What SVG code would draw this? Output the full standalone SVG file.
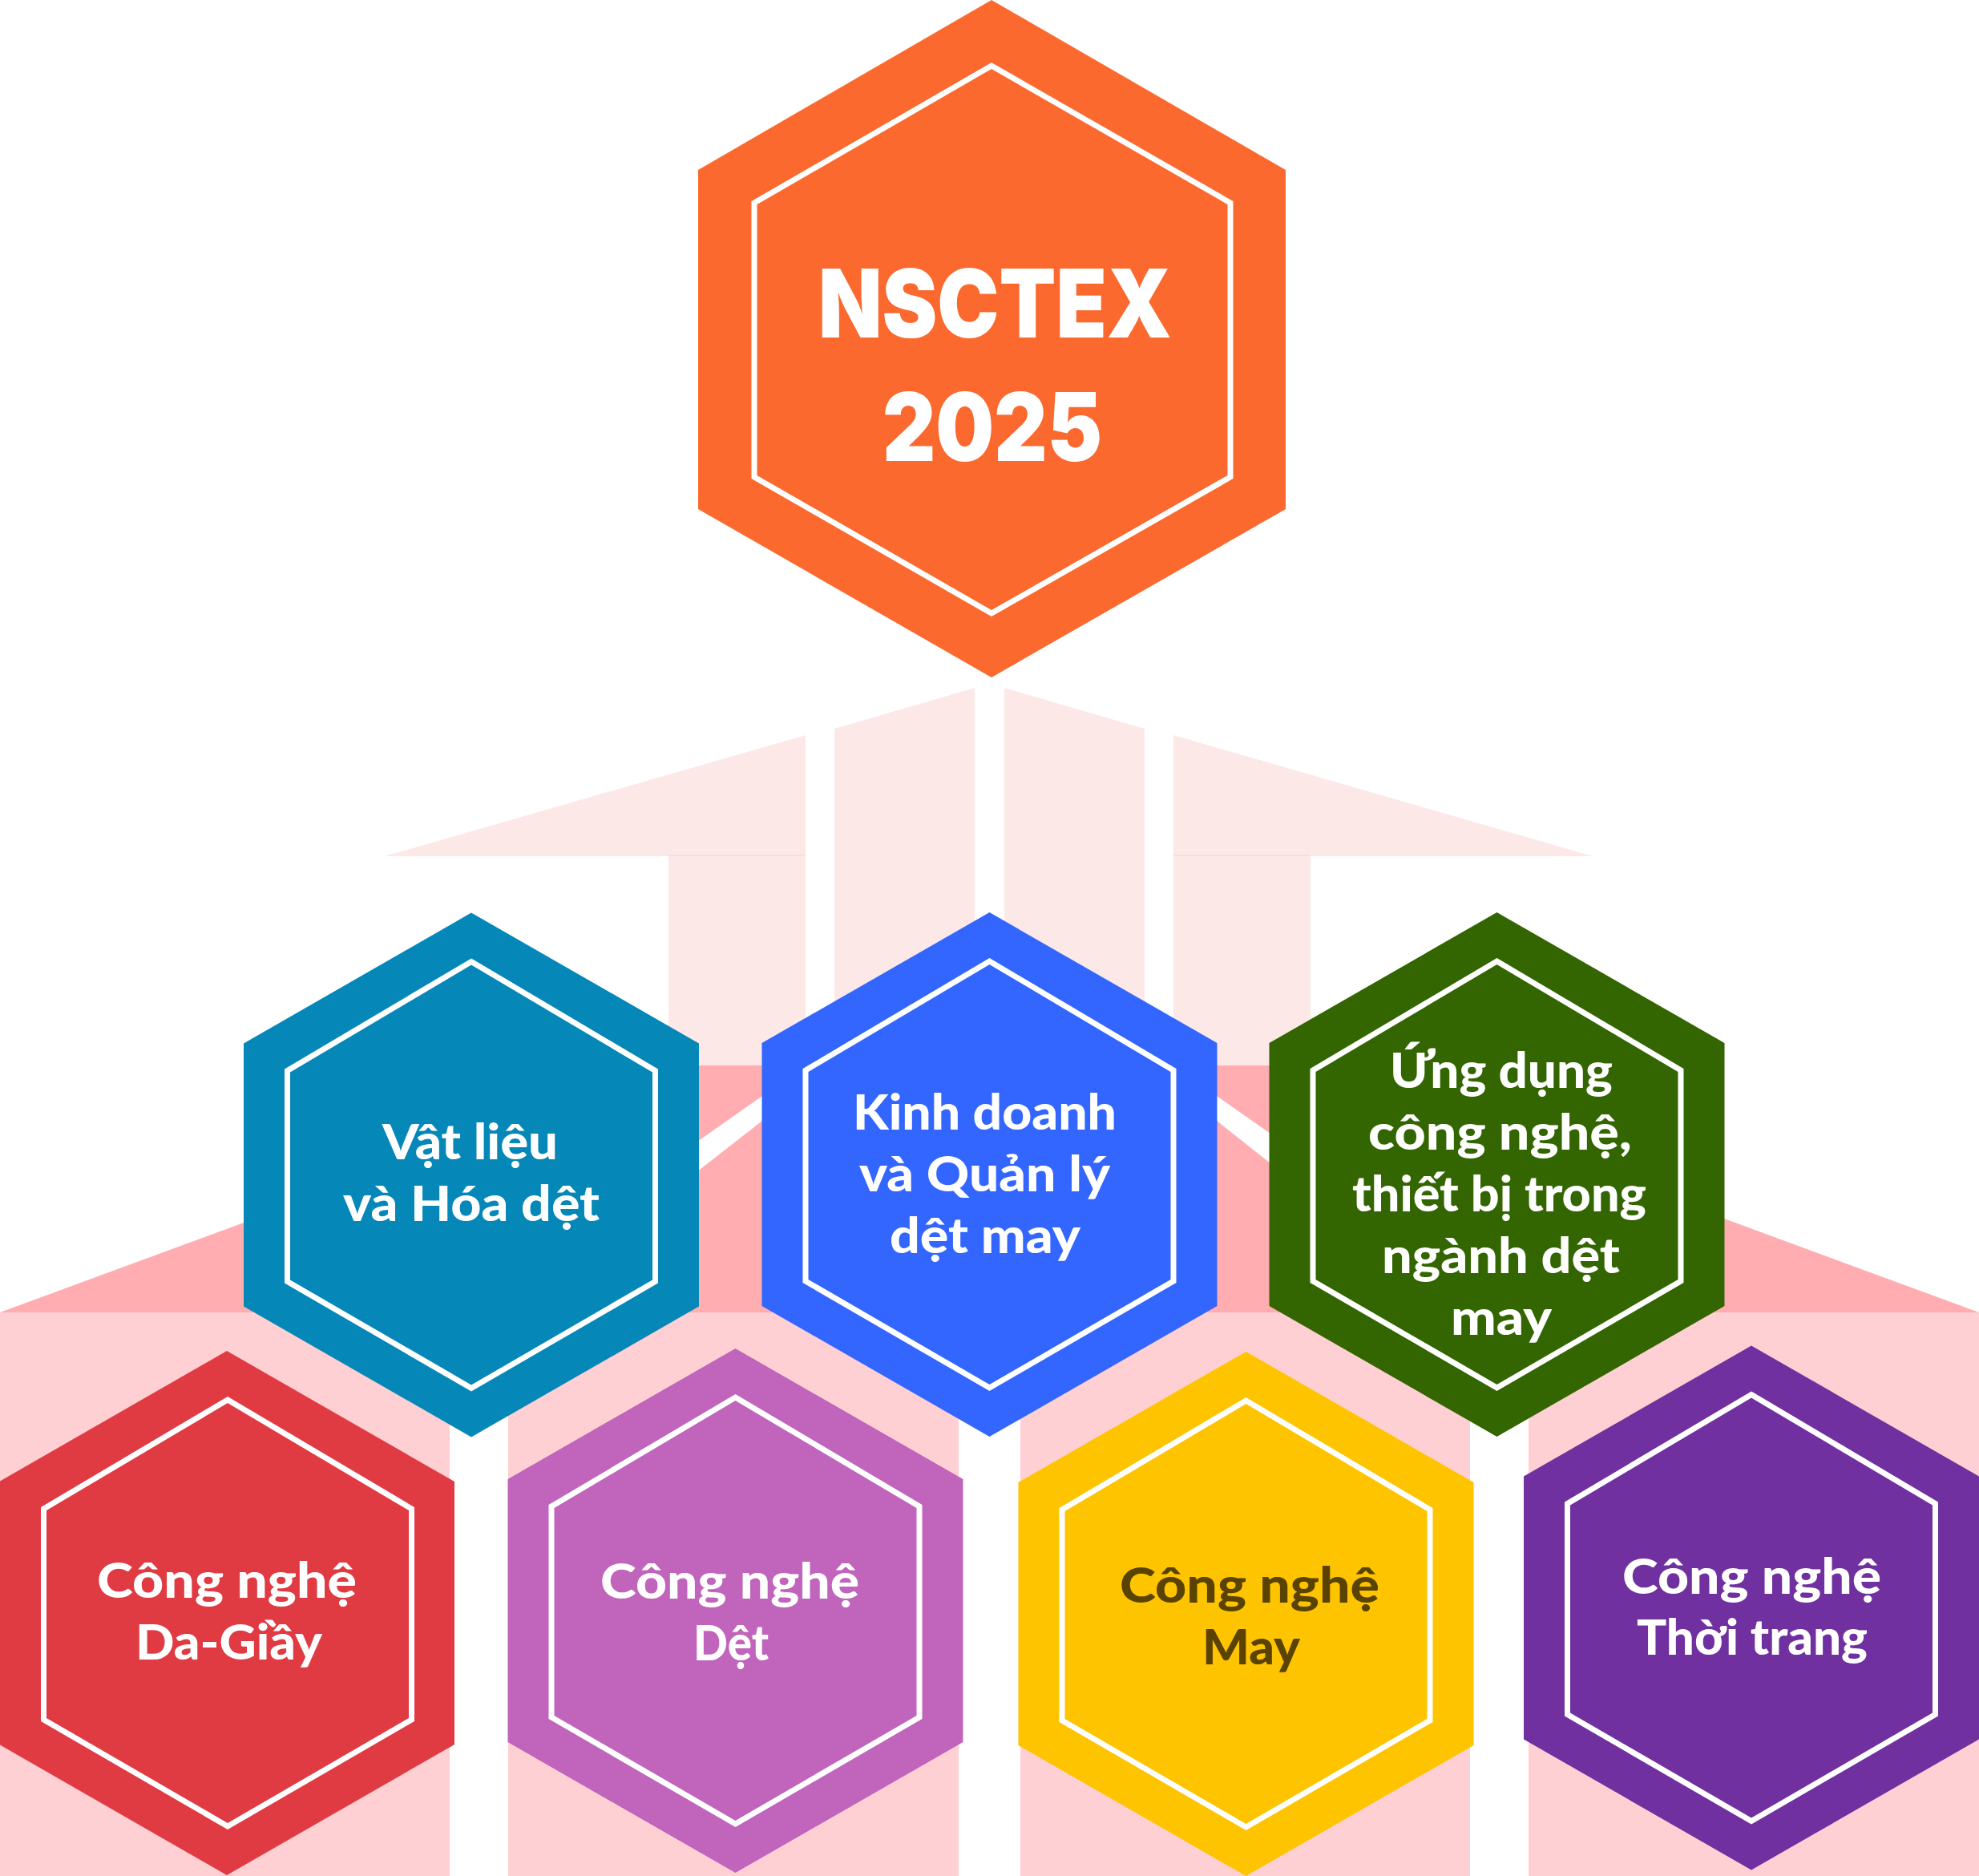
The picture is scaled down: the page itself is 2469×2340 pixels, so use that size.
<svg xmlns="http://www.w3.org/2000/svg" xmlns:xlink="http://www.w3.org/1999/xlink" width="2469" height="2340" viewBox="0 0 2469 2340">
<style>
.pale{fill:#fde8e8}.seam{fill:#fbdcdc}.pink{fill:#ffadb0}.light{fill:#ffd0d3}.gap{fill:#fff}
.inner{fill:none;stroke:#fff;stroke-width:7;stroke-miterlimit:10}
text{font-family:"Lato","Noto Sans",sans-serif;font-weight:900;font-size:60px;fill:#fff}
.title{font-family:"Inter","Lato",sans-serif;font-weight:900;font-size:118px}
.dark{fill:#5a4300}
</style>
<defs>
<polygon id="hexO" points="0,0 284,163 284,491 0,654 -284,491 -284,163"/>
<polygon id="hexI" class="inner" points="0,61 229.5,197 229.5,460 0,593 -229.5,460 -229.5,197"/>
</defs>
<rect width="2469" height="2340" fill="#fff"/>
<g id="connectors">
<polygon class="pale" points="480,1068 1005,917 1005,1329 834,1329 834,1068"/>
<polygon class="pale" points="1041,909 1216,858 1216,1329 1041,1329"/>
<polygon class="pale" points="1253,858 1428,909 1428,1329 1253,1329"/>
<polygon class="pale" points="1464,917 1987,1068 1635,1068 1635,1329 1464,1329"/>
<rect class="seam" x="834" y="1066" width="171" height="2"/>
<rect class="seam" x="1464" y="1066" width="171" height="2"/>
<polygon class="pink" points="0,1637 837,1329 1632,1329 2469,1637"/>
<polygon class="gap" points="860,1431 951,1367 951,1398 860,1469"/>
<polygon class="gap" points="1518,1367 1595,1421 1595,1459 1518,1398"/>
<rect class="light" x="0" y="1637" width="2469" height="63"/>
<rect class="light" x="0" y="1700" width="561" height="640"/>
<rect class="light" x="634" y="1700" width="562" height="640"/>
<rect class="light" x="1273" y="1700" width="561" height="640"/>
<rect class="light" x="1907" y="1700" width="562" height="640"/>
</g>
<g id="node-nsctex">
<polygon fill="#fb692f" points="1237,0 1604,212 1604,635 1237,845 871,635 871,212"/>
<polygon class="inner" points="1237,82 1535,253 1535,595 1237,765 941,595 941,253"/>
<text class="title" x="1021" y="421" textLength="441" lengthAdjust="spacingAndGlyphs">NSCTEX</text>
<text class="title" x="1101" y="575" textLength="274" lengthAdjust="spacingAndGlyphs">2025</text>
</g>
<g id="node-vat-lieu">
<use xlink:href="#hexO" fill="#0587b8" transform="translate(588,1138.5)"/><use xlink:href="#hexI" transform="translate(588,1138.5)"/>
<text x="477" y="1446" textLength="219" lengthAdjust="spacingAndGlyphs">Vật liệu</text>
<text x="428" y="1523" textLength="320" lengthAdjust="spacingAndGlyphs">và Hóa dệt</text>
</g>
<g id="node-kinh-doanh">
<use xlink:href="#hexO" fill="#3366ff" transform="translate(1234.5,1138)"/><use xlink:href="#hexI" transform="translate(1234.5,1138)"/>
<text x="1064" y="1409" textLength="329" lengthAdjust="spacingAndGlyphs">Kinh doanh</text>
<text x="1072" y="1486" textLength="313" lengthAdjust="spacingAndGlyphs">và Quản lý</text>
<text x="1110" y="1563" textLength="238" lengthAdjust="spacingAndGlyphs">dệt may</text>
</g>
<g id="node-ung-dung">
<use xlink:href="#hexO" fill="#336600" transform="translate(1867.5,1138)"/><use xlink:href="#hexI" transform="translate(1867.5,1138)"/>
<text x="1734" y="1357" textLength="278" lengthAdjust="spacingAndGlyphs">Ứng dụng</text>
<text x="1707" y="1433.5" textLength="329" lengthAdjust="spacingAndGlyphs">công nghệ,</text>
<text x="1687" y="1510.5" textLength="367" lengthAdjust="spacingAndGlyphs">thiết bị trong</text>
<text x="1724" y="1587.5" textLength="297" lengthAdjust="spacingAndGlyphs">ngành dệt</text>
<text x="1810" y="1664.5" textLength="126" lengthAdjust="spacingAndGlyphs">may</text>
</g>
<g id="node-da-giay">
<use xlink:href="#hexO" fill="#e03b43" transform="translate(283,1685)"/><use xlink:href="#hexI" transform="translate(284,1685)"/>
<text x="121" y="1993" textLength="324" lengthAdjust="spacingAndGlyphs">Công nghệ</text>
<text x="169" y="2070" textLength="233" lengthAdjust="spacingAndGlyphs">Da-Giầy</text>
</g>
<g id="node-det">
<use xlink:href="#hexO" fill="#c064bc" transform="translate(917.5,1682)"/><use xlink:href="#hexI" transform="translate(917.5,1682)"/>
<text x="749" y="1993.5" textLength="323" lengthAdjust="spacingAndGlyphs">Công nghệ</text>
<text x="865" y="2070.5" textLength="94" lengthAdjust="spacingAndGlyphs">Dệt</text>
</g>
<g id="node-may">
<use xlink:href="#hexO" fill="#ffc400" transform="translate(1554.5,1686)"/><use xlink:href="#hexI" transform="translate(1554.5,1686)"/>
<text class="dark" x="1397" y="1998.5" textLength="324" lengthAdjust="spacingAndGlyphs">Công nghệ</text>
<text class="dark" x="1500" y="2076" textLength="122" lengthAdjust="spacingAndGlyphs">May</text>
</g>
<g id="node-thoi-trang">
<use xlink:href="#hexO" fill="#70309f" transform="translate(2185,1678.5)"/><use xlink:href="#hexI" transform="translate(2185,1678.5)"/>
<text x="2024" y="1987.5" textLength="323" lengthAdjust="spacingAndGlyphs">Công nghệ</text>
<text x="2042" y="2064" textLength="288" lengthAdjust="spacingAndGlyphs">Thời trang</text>
</g>
</svg>
